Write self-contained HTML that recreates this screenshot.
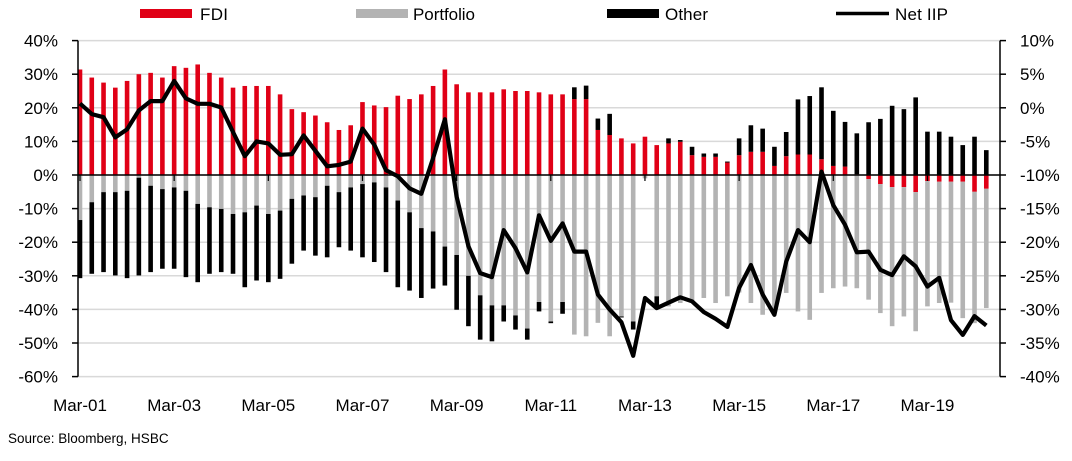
<!DOCTYPE html>
<html><head><meta charset="utf-8"><style>
html,body{margin:0;padding:0;background:#fff;}
svg{display:block;font-family:"Liberation Sans",Arial,sans-serif;}
</style></head><body>
<svg id="chart" width="1072" height="461" viewBox="0 0 1072 461" xmlns="http://www.w3.org/2000/svg">
<g id="grid"></g>
<g id="bars"></g>
<g id="axes"></g>
<g id="line"></g>
<g id="legend">
 <rect x="140" y="9" width="52" height="9" fill="#e00016"/>
 <text x="200" y="20" font-size="17" textLength="28">FDI</text>
 <rect x="356" y="9" width="52" height="9" fill="#b3b3b3"/>
 <text x="413" y="20" font-size="17" textLength="62">Portfolio</text>
 <rect x="607" y="9" width="52" height="9" fill="#000"/>
 <text x="665" y="20" font-size="17" textLength="43">Other</text>
 <line x1="836" y1="13.5" x2="889" y2="13.5" stroke="#000" stroke-width="3.5"/>
 <text x="895" y="20" font-size="17" textLength="53">Net IIP</text>
</g>
<text x="8" y="443" font-size="13.5" fill="#000">Source: Bloomberg, HSBC</text>
</svg>
<script>
const fdi=[31.4,29,27.5,26,28,30,30.4,29,32.4,31.9,32.9,30.4,29,26,26.5,26.5,26.5,24,19.6,18.7,17.7,15.7,13.4,14.8,21.7,20.7,20.2,23.6,22.6,24,26.5,31.4,27,24.6,24.6,24.6,25.5,25,25,24.6,24,24,22.6,22.6,13.4,11.9,10.9,9.4,11.4,8.9,9.4,9.9,5.9,5.4,5.4,3.7,5.9,6.9,6.9,2.7,5.6,6.1,6.1,4.7,2.7,2.5,0.2,-1.2,-2.7,-3.6,-3.6,-5.1,-1.8,-2,-2,-2,-5,-4.1];
const portfolio=[-13.4,-8.1,-5.1,-5.1,-4.7,-0.8,-3.2,-4.2,-3.7,-4.7,-8.6,-9.6,-10.1,-11.6,-11.1,-9.1,-11.6,-10.6,-7.1,-6.1,-6.6,-3.2,-5.1,-3.7,-2.7,-2.2,-3.7,-7.6,-11.1,-15.8,-16.8,-21.3,-23.8,-30,-35.8,-38.8,-38.8,-41.8,-45.7,-37.8,-43.6,-37.8,-47.5,-48,-44,-48,-42.1,-43.6,-1,-36.1,-39.1,-38.1,-37.6,-36.6,-38.1,-36.1,-35,-38.1,-41.6,-41,-35.1,-40.6,-43.1,-35.1,-33.7,-33.2,-33.7,-35.9,-38.4,-41.4,-38.5,-41.4,-37.3,-36.1,-36,-40.6,-39.1,-35.5];
const other=[-17.3,-21.3,-23.8,-24.8,-26,-29.1,-25.7,-23.7,-24.2,-25.7,-23.3,-19.8,-18.8,-17.8,-22.3,-22.3,-20.3,-20.3,-19.3,-16.4,-17.4,-21.3,-16.4,-18.8,-21.8,-23.7,-25.2,-25.8,-23.3,-20.8,-17,-11.6,-16.3,-15,-13.2,-10.7,-4.8,-4.2,-3.3,-2.8,-0.5,-3.5,3.5,4,3.4,6.3,-0.3,-2.4,0,-2.9,1.5,0.5,2.5,1,1,0.3,5,7.9,6.9,5.7,7.2,16.4,17.4,21.4,16.4,13.3,12.2,15.7,16.7,20.6,19.6,23.1,12.9,12.9,11.4,8.9,11.4,7.4];
const netIIP=[0.64,-0.94,-1.4,-4.4,-3.2,-0.4,1.0,1.0,4.0,1.4,0.6,0.6,0.05,-3.6,-7.2,-5.0,-5.3,-7.0,-6.9,-4.1,-6.4,-8.7,-8.5,-8.0,-3.1,-5.5,-9.3,-10.2,-12,-12.8,-7.5,-1.7,-13.2,-20.6,-24.6,-25.2,-18.2,-20.9,-24.5,-16,-19.8,-17.2,-21.4,-21.4,-27.8,-30,-31.9,-36.9,-28.3,-29.8,-29,-28.2,-28.8,-30.4,-31.4,-32.6,-26.8,-23.4,-27.8,-30.8,-22.9,-18.2,-20,-9.5,-14.5,-17.4,-21.5,-21.4,-24.1,-24.9,-22.1,-23.6,-26.6,-25.3,-31.6,-33.8,-31,-32.4];
const leftTicks=[40,30,20,10,0,-10,-20,-30,-40,-50,-60];
const rightTicks=[10,5,0,-5,-10,-15,-20,-25,-30,-35,-40];
const xLabels=["Mar-01","Mar-03","Mar-05","Mar-07","Mar-09","Mar-11","Mar-13","Mar-15","Mar-17","Mar-19"];

const NS="http://www.w3.org/2000/svg";
const X0=80, STEP=11.77, LX0=78, RX=1000;
const yL=v=>175-v*3.36;
const yR=v=>175-(v+10)*6.72;
const xi=i=>X0+i*STEP;
function mk(tag,attrs,parent){const e=document.createElementNS(NS,tag);for(const k in attrs)e.setAttribute(k,attrs[k]);parent.appendChild(e);return e;}
const grid=document.getElementById('grid'),bars=document.getElementById('bars'),axes=document.getElementById('axes'),lineG=document.getElementById('line');

leftTicks.forEach((t,k)=>{
  const y=yL(t);
  const g=mk('line',{x1:LX0,x2:RX,y1:y,y2:y,stroke:'#d9d9d9','stroke-width':1.5},grid);
  
  
  const tk=mk('line',{x1:LX0-6,x2:LX0,y1:y,y2:y,stroke:'#000','stroke-width':1.5},axes);
  
  
  const tx=mk('text',{x:58,y:y+6,'font-size':17,'text-anchor':'end'},axes);
  tx.textContent=t+'%';
  
  
});
rightTicks.forEach(t=>{
  const y=yR(t);
  const tk=mk('line',{x1:RX,x2:RX+6,y1:y,y2:y,stroke:'#000','stroke-width':1.5},axes);
  
  
  const tx=mk('text',{x:1020,y:y+6,'font-size':17},axes);
  tx.textContent=t+'%';
  
  
});
const la=mk('line',{x1:LX0,x2:LX0,y1:yL(40),y2:yL(-60),stroke:'#000','stroke-width':1.5},axes);


const ra=mk('line',{x1:RX,x2:RX,y1:yR(10),y2:yR(-40),stroke:'#000','stroke-width':1.5},axes);



const BW=4.6;
function seg(i,a,b,color,name){
  const y1=yL(Math.max(a,b)),y2=yL(Math.min(a,b));
  if(y2-y1<0.2)return;
  const r=mk('rect',{x:xi(i)-BW/2,y:y1,width:BW,height:y2-y1,fill:color},bars);
  
  
}
for(let i=0;i<fdi.length;i++){
  let pos=0,neg=0;
  [[fdi[i],'#e00016','bar-fdi'],[portfolio[i],'#b3b3b3','bar-portfolio'],[other[i],'#000','bar-other']].forEach(([v,c,n])=>{
    if(v>=0){seg(i,pos,pos+v,c,n);pos+=v;}else{seg(i,neg,neg+v,c,n);neg+=v;}
  });
}
const zl=mk('line',{x1:LX0,x2:RX,y1:yL(0),y2:yL(0),stroke:'#000','stroke-width':1.5},axes);


xLabels.forEach((l,k)=>{
  const x=xi(k*8);
  const tk=mk('line',{x1:x,x2:x,y1:yL(0),y2:yL(0)+6,stroke:'#000','stroke-width':1.2},axes);
  
  
  const tx=mk('text',{x:x,y:411,'font-size':17,'text-anchor':'middle'},axes);
  tx.textContent=l;
  
  
});
const pts=netIIP.map((v,i)=>xi(i).toFixed(1)+','+yR(v).toFixed(1)).join(' ');
const pl=mk('polyline',{points:pts,fill:'none',stroke:'#000','stroke-width':4.2,'stroke-linejoin':'round'},lineG);


</script>
</body></html>
